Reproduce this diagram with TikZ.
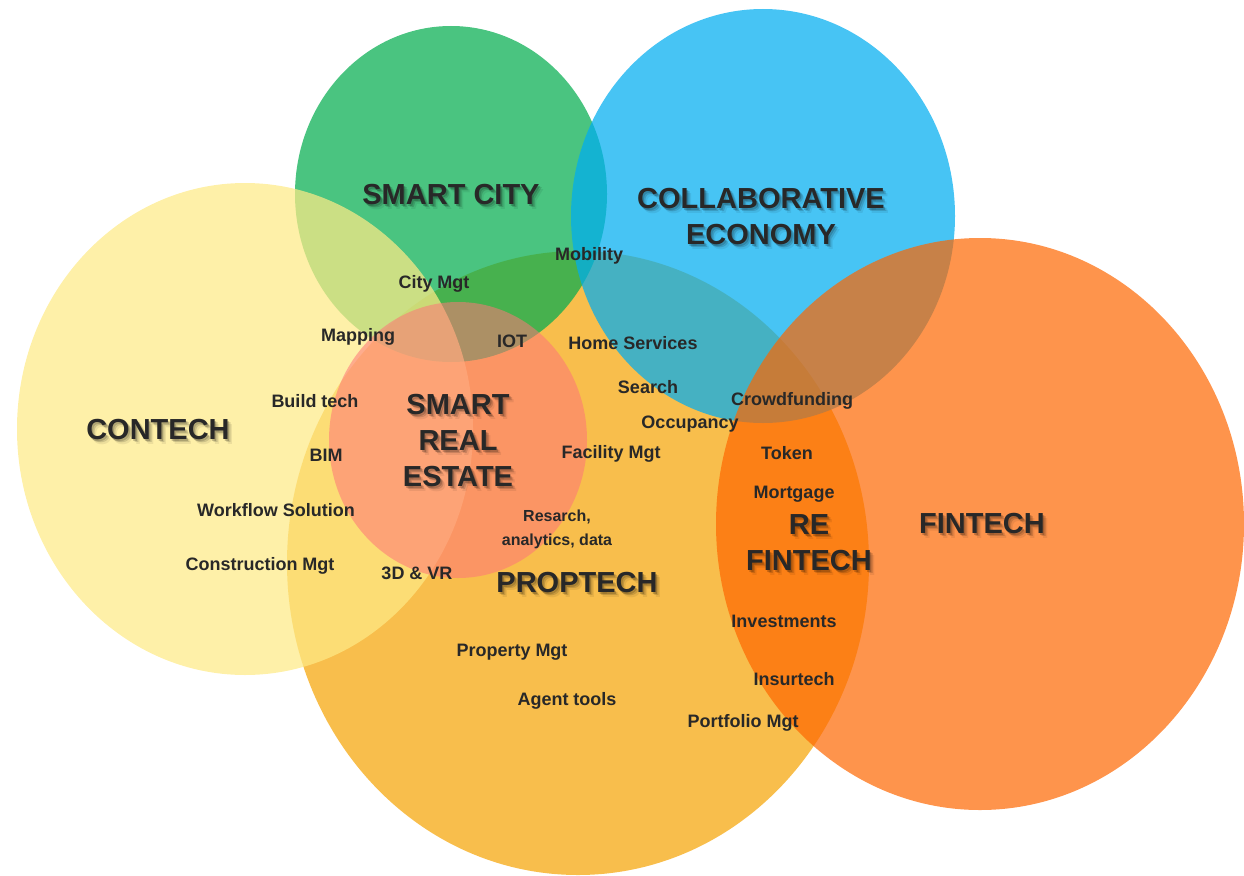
\documentclass[tikz,border=0pt]{standalone}
\usepackage{fontspec}
\setmainfont{Liberation Sans}
\usetikzlibrary{positioning}

\definecolor{proptechc}{RGB}{248,190,76}
\definecolor{cityc}{RGB}{4,173,79}
\definecolor{contechc}{RGB}{254,234,134}
\definecolor{collabc}{RGB}{0,173,240}
\definecolor{fintechc}{RGB}{254,102,0}
\definecolor{srec}{RGB}{255,117,120}
\definecolor{ink}{RGB}{40,40,40}

% big title with a soft shadow
\newcommand{\bigtag}[3]{%
  \foreach \dx/\op in {1.5/0.20, 3/0.14, 4.5/0.07}
    \node[big, text=black, text opacity=\op, xshift=\dx pt, yshift=-\dx pt] at (#2) {#3};
  \node[big] (#1) at (#2) {#3};}

\begin{document}
\begin{tikzpicture}[x=1pt, y=-1pt,
    big/.style={font=\fontsize{29}{36}\selectfont\bfseries, text=ink, align=center, inner sep=0pt},
    lbl/.style={font=\fontsize{18}{24}\selectfont\bfseries, text=ink, align=center, inner sep=0pt},
    sml/.style={font=\fontsize{16}{24}\selectfont\bfseries, text=ink, align=center, inner sep=0pt}]
  \useasboundingbox (0,0) rectangle (1244,875);

  % the sets
  \fill[proptechc] (578,563) ellipse [x radius=291pt, y radius=312pt];
  \fill[cityc, fill opacity=0.72] (451,194) ellipse [x radius=156pt, y radius=168pt];
  \fill[contechc, fill opacity=0.72] (245,429) ellipse [x radius=228pt, y radius=246pt];
  \fill[collabc, fill opacity=0.72] (763,216) ellipse [x radius=192pt, y radius=207pt];
  \fill[fintechc, fill opacity=0.70] (980,524) ellipse [x radius=264pt, y radius=286pt];
  \fill[srec, fill opacity=0.55] (458,440) ellipse [x radius=129pt, y radius=138pt];

  % titles
  \bigtag{city}{451,195}{SMART CITY}
  \bigtag{collab}{761,217}{COLLABORATIVE\\ECONOMY}
  \bigtag{contech}{158,430}{CONTECH}
  \bigtag{sre}{458,441}{SMART\\REAL\\ESTATE}
  \bigtag{fintech}{982,524}{FINTECH}
  \bigtag{refin}{809,543}{RE\\FINTECH}
  \bigtag{proptech}{577,583}{PROPTECH}

  % items
  \node[lbl] (mob) at (589,256) {Mobility};
  \node[lbl] (citymgt) at (434,284) {City Mgt};
  \node[lbl] (map) at (358,337) {Mapping};
  \node[lbl] (iot) at (512,341) {IOT};
  \node[lbl] (home) at (633,343) {Home Services};
  \node[lbl] (search) at (648,387) {Search};
  \node[lbl] (crowd) at (792,401) {Crowdfunding};
  \node[lbl] (occ) at (690,424) {Occupancy};
  \node[lbl] (build) at (315,401) {Build tech};
  \node[lbl] (bim) at (326,455) {BIM};
  \node[lbl] (facil) at (611,454) {Facility Mgt};
  \node[lbl] (token) at (787,453) {Token};
  \node[lbl] (mort) at (794,494) {Mortgage};
  \node[lbl] (work) at (276,510) {Workflow Solution};
  \node[sml] (res) at (557,529) {Resarch,\\analytics, data};
  \node[lbl] (constr) at (260,566) {Construction Mgt};
  \node[lbl] (vr) at (417,573) {3D \& VR};
  \node[lbl] (invest) at (784,621) {Investments};
  \node[lbl] (prop) at (512,652) {Property Mgt};
  \node[lbl] (insur) at (794,679) {Insurtech};
  \node[lbl] (agent) at (567,701) {Agent tools};
  \node[lbl] (port) at (743,723) {Portfolio Mgt};
\end{tikzpicture}
\end{document}
